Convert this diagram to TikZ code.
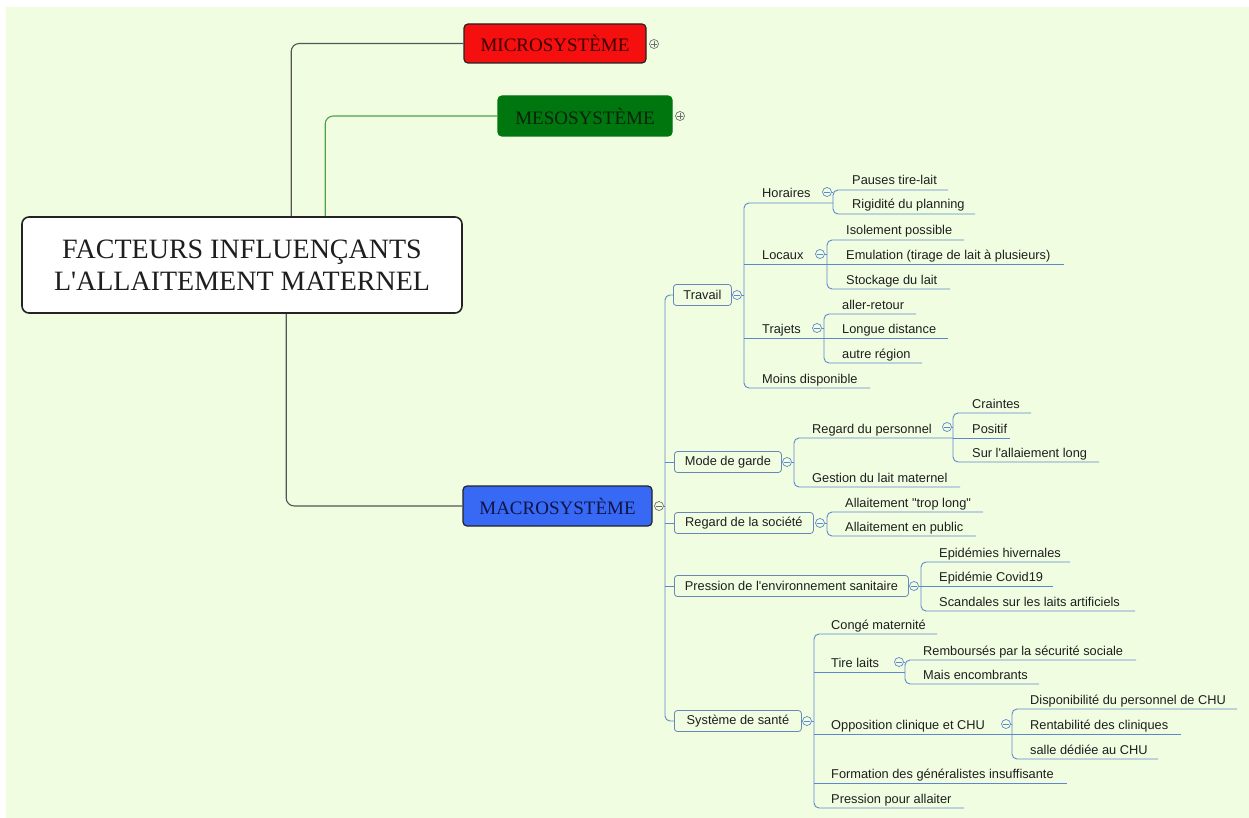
\documentclass[tikz,border=0pt]{standalone}
\usepackage{fontspec}
\setmainfont{Liberation Sans}[Ligatures=TeXOff]
\newfontfamily\lserif{Liberation Serif}[Ligatures=TeXOff]
\definecolor{bg}{RGB}{240,253,225}
\definecolor{lnblue}{RGB}{95,135,205}
\definecolor{boxbd}{RGB}{105,135,185}
\definecolor{txt}{RGB}{30,30,30}
\definecolor{microred}{RGB}{245,15,15}
\definecolor{mesogreen}{RGB}{0,118,14}
\definecolor{macroblue}{RGB}{55,105,245}
\definecolor{darkbd}{RGB}{35,35,35}
\definecolor{btngray}{RGB}{110,110,110}
\newcommand\fsmall{\fontsize{12.8}{14}\selectfont}
\newcommand\leaf[5]{\node[lbl] (#1) at (#2,#4-5) {#5}; \coordinate (#1-e) at (#3,#4);}
\tikzset{
  lbl/.style={anchor=base west, inner sep=0pt, font=\fsmall, text=txt},
  lvlbox/.style={draw=boxbd, rounded corners=3pt, fill=bg, anchor=west, minimum height=21pt, inner sep=0pt, font=\fsmall, text=txt, line width=0.8pt},
  link/.style={draw=lnblue, line width=0.9pt, rounded corners=5pt},
  topbox/.style={rounded corners=4pt, line width=1.2pt, minimum height=39pt, inner sep=0pt, font=\lserif\fontsize{19}{22}\selectfont},
  colbtn/.style={circle, draw=#1, fill=bg, minimum size=9pt, inner sep=0pt, line width=0.7pt,
    path picture={\draw[#1, line width=0.7pt] ([xshift=-2.6pt]path picture bounding box.center) -- ([xshift=2.6pt]path picture bounding box.center);}},
  colbtn/.default=lnblue,
  expbtn/.style={circle, draw=btngray, fill=bg, minimum size=9pt, inner sep=0pt, line width=0.7pt,
    path picture={\draw[btngray, line width=0.7pt] ([xshift=-2.6pt]path picture bounding box.center) -- ([xshift=2.6pt]path picture bounding box.center)
      ([yshift=-2.6pt]path picture bounding box.center) -- ([yshift=2.6pt]path picture bounding box.center);}},
}
\begin{document}
\begin{tikzpicture}[x=1pt,y=-1pt]
\useasboundingbox (0,0) rectangle (1249,818);
\fill[white] (0,0) rectangle (1249,818);
\fill[bg] (6,7) rectangle (1249,818);

% main nodes
\node[draw=darkbd, fill=white, rounded corners=7pt, line width=1.6pt, minimum width=440pt, minimum height=96pt, align=center, inner sep=0pt,
  font=\lserif\fontsize{28}{32}\selectfont, text=txt] (central) at (242,265) {FACTEURS INFLUENÇANTS\\L'ALLAITEMENT MATERNEL};
\node[topbox, fill=microred, draw=darkbd, text={rgb,255:red,60;green,0;blue,0}, minimum width=182pt] (micro) at (555,43.5) {MICROSYSTÈME};
\node[topbox, fill=mesogreen, draw=mesogreen, text={rgb,255:red,10;green,35;blue,10}, minimum width=174pt, minimum height=40pt] (meso) at (585,116) {MESOSYSTÈME};
\node[topbox, fill=macroblue, draw=darkbd, text={rgb,255:red,15;green,20;blue,70}, minimum width=189pt, minimum height=40pt] (macro) at (557.5,506) {MACROSYSTÈME};
\node[expbtn] (p-micro) at (654,44) {};
\node[expbtn] (p-meso) at (680,116) {};
\node[colbtn=btngray] (m-macro) at (659,506) {};

\draw[line width=1.1pt, draw={rgb,255:red,85;green,85;blue,85}, rounded corners=8pt] ([xshift=270pt]central.north west) |- (micro.west);
\draw[line width=1.1pt, draw={rgb,255:red,80;green,160;blue,80}, rounded corners=8pt] ([xshift=304pt]central.north west) |- (meso.west);
\draw[line width=1.1pt, draw={rgb,255:red,85;green,85;blue,85}, rounded corners=8pt] ([xshift=265pt]central.south west) |- (macro.west);

% level 1
\coordinate (trunk) at (665,0);
\node[lvlbox, minimum width=58pt] (trav) at (673,295) {Travail};
\node[lvlbox, minimum width=107pt] (garde) at (674,462) {Mode de garde};
\node[lvlbox, minimum width=139pt] (societe) at (674,523) {Regard de la société};
\node[lvlbox, minimum width=234pt] (pression) at (674,586) {Pression de l'environnement sanitaire};
\node[lvlbox, minimum width=127pt] (sante) at (674,721) {Système de santé};
\draw[link] (trav.west) -- (trav.west -| trunk) |- (sante.west);
\draw[link] (garde.west -| trunk) -- (garde.west);
\draw[link] (societe.west -| trunk) -- (societe.west);
\draw[link] (pression.west -| trunk) -- (pression.west);
\draw[link, draw=btngray] (m-macro) -- (m-macro -| trunk);

% Travail
\coordinate (tb) at (744,0);
\node[colbtn] (m-trav) at (737,295) {};
\leaf{horaires}{762}{833}{203}{Horaires}
\leaf{locaux}{762}{827}{264}{Locaux}
\leaf{trajets}{762}{824}{338}{Trajets}
\leaf{moins}{762}{870}{388}{Moins disponible}
\draw[link] (horaires-e) -- (horaires-e -| tb) |- (moins-e);
\draw[link] (locaux-e -| tb) -- (locaux-e);
\draw[link] (trajets-e -| tb) -- (trajets-e);
\draw[link] (m-trav) -- (m-trav -| tb);

% Horaires
\coordinate (hb) at (833,0);
\node[colbtn] (m-hor) at (827,192) {};
\leaf{pauses}{852}{948}{190}{Pauses tire-lait}
\leaf{rigid}{852}{975}{214}{Rigidité du planning}
\draw[link] (pauses-e) -- (pauses-e -| hb) |- (rigid-e);
\draw[link] (m-hor) -- (m-hor -| hb);

% Locaux
\coordinate (lb) at (827,0);
\node[colbtn] (m-loc) at (820,254) {};
\leaf{isol}{846}{964}{240}{Isolement possible}
\leaf{emul}{846}{1064}{264}{Emulation (tirage de lait à plusieurs)}
\leaf{stock}{846}{950}{289}{Stockage du lait}
\draw[link] (isol-e) -- (isol-e -| lb) |- (stock-e);
\draw[link] (emul-e -| lb) -- (emul-e);
\draw[link] (m-loc) -- (m-loc -| lb);

% Trajets
\coordinate (jb) at (824,0);
\node[colbtn] (m-traj) at (817,328) {};
\leaf{aller}{842}{916}{314}{aller-retour}
\leaf{longue}{842}{948}{338}{Longue distance}
\leaf{autre}{842}{922}{363}{autre région}
\draw[link] (aller-e) -- (aller-e -| jb) |- (autre-e);
\draw[link] (longue-e -| jb) -- (longue-e);
\draw[link] (m-traj) -- (m-traj -| jb);

% Mode de garde
\coordinate (gb) at (794,0);
\node[colbtn] (m-garde) at (787,462) {};
\leaf{regpers}{812}{953}{438}{Regard du personnel}
\leaf{gestion}{812}{960}{487}{Gestion du lait maternel}
\draw[link] (regpers-e) -- (regpers-e -| gb) |- (gestion-e);
\draw[link] (m-garde) -- (m-garde -| gb);

% Regard du personnel
\coordinate (rb) at (953,0);
\node[colbtn] (m-regp) at (947,427) {};
\leaf{craintes}{972}{1031}{413}{Craintes}
\leaf{positif}{972}{1010}{438}{Positif}
\leaf{surlong}{972}{1099}{462}{Sur l'allaiement long}
\draw[link] (craintes-e) -- (craintes-e -| rb) |- (surlong-e);
\draw[link] (positif-e -| rb) -- (positif-e);
\draw[link] (m-regp) -- (m-regp -| rb);

% Regard de la société
\coordinate (sb) at (827,0);
\node[colbtn] (m-soc) at (820,523) {};
\leaf{trop}{845}{983}{512}{Allaitement "trop long"}
\leaf{public}{845}{976}{536}{Allaitement en public}
\draw[link] (trop-e) -- (trop-e -| sb) |- (public-e);
\draw[link] (m-soc) -- (m-soc -| sb);

% Pression
\coordinate (pb) at (921,0);
\node[colbtn] (m-pres) at (914,586) {};
\leaf{hiv}{939}{1070}{562}{Epidémies hivernales}
\leaf{covid}{939}{1053}{586}{Epidémie Covid19}
\leaf{scand}{939}{1135}{611}{Scandales sur les laits artificiels}
\draw[link] (hiv-e) -- (hiv-e -| pb) |- (scand-e);
\draw[link] (covid-e -| pb) -- (covid-e);
\draw[link] (m-pres) -- (m-pres -| pb);

% Système de santé
\coordinate (eb) at (814,0);
\node[colbtn] (m-sante) at (807,721) {};
\leaf{conge}{831}{937}{634}{Congé maternité}
\leaf{tire}{831}{905}{672}{Tire laits}
\leaf{oppo}{831}{1012}{734}{Opposition clinique et CHU}
\leaf{forma}{831}{1067}{783}{Formation des généralistes insuffisante}
\leaf{pressall}{831}{964}{808}{Pression pour allaiter}
\draw[link] (conge-e) -- (conge-e -| eb) |- (pressall-e);
\draw[link] (tire-e -| eb) -- (tire-e);
\draw[link] (oppo-e -| eb) -- (oppo-e);
\draw[link] (forma-e -| eb) -- (forma-e);
\draw[link] (m-sante) -- (m-sante -| eb);

% Tire laits
\coordinate (kb) at (905,0);
\node[colbtn] (m-tire) at (899,662) {};
\leaf{rembo}{923}{1136}{660}{Remboursés par la sécurité sociale}
\leaf{encomb}{923}{1039}{684}{Mais encombrants}
\draw[link] (rembo-e) -- (rembo-e -| kb) |- (encomb-e);
\draw[link] (m-tire) -- (m-tire -| kb);

% Opposition
\coordinate (ob) at (1012,0);
\node[colbtn] (m-oppo) at (1006,724) {};
\leaf{dispo}{1030}{1237}{709}{Disponibilité du personnel de CHU}
\leaf{renta}{1030}{1181}{734}{Rentabilité des cliniques}
\leaf{salle}{1030}{1158}{759}{salle dédiée au CHU}
\draw[link] (dispo-e) -- (dispo-e -| ob) |- (salle-e);
\draw[link] (renta-e -| ob) -- (renta-e);
\draw[link] (m-oppo) -- (m-oppo -| ob);
\end{tikzpicture}
\end{document}
